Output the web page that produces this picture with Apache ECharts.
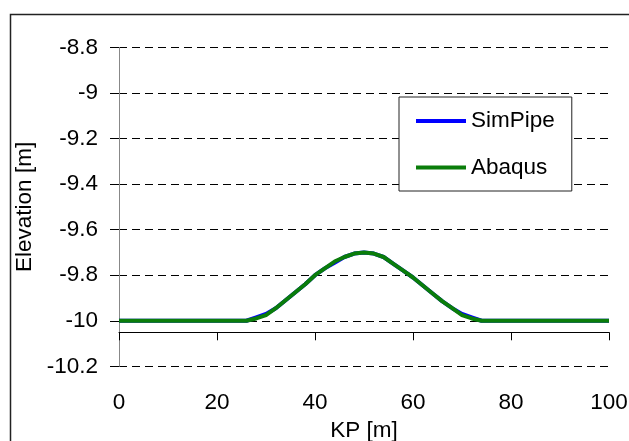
<!DOCTYPE html>
<html><head><meta charset="utf-8">
<script src="https://cdn.jsdelivr.net/npm/echarts@6/dist/echarts.min.js"></script>
<style>html,body{margin:0;padding:0;background:#fff}#c{width:629px;height:441px}</style>
</head><body><div id="c"></div>
<script>
const kp = [0,10,20,26,28,30,32,34,36,38,40,42,44,46,48,50,52,54,56,58,60,62,64,66,68,70,72,74,80,90,100];
const simPipe = [-10,-10,-10,-10,-9.985,-9.97,-9.945,-9.91,-9.875,-9.84,-9.80,-9.77,-9.745,-9.72,-9.705,-9.70,-9.705,-9.72,-9.75,-9.78,-9.81,-9.845,-9.88,-9.915,-9.945,-9.97,-9.985,-10,-10,-10,-10];
const abaqus  = [-10,-10,-10,-10,-9.99,-9.975,-9.945,-9.91,-9.875,-9.84,-9.80,-9.77,-9.74,-9.72,-9.705,-9.70,-9.705,-9.72,-9.75,-9.78,-9.81,-9.845,-9.88,-9.915,-9.945,-9.975,-9.99,-10,-10,-10,-10];
const seriesNames = ['SimPipe','Abaqus'];
const xTicks = {min:0, max:100, interval:20};
const yTicks = {min:-10.2, max:-8.8, interval:0.2};

const font = 'Liberation Sans, Arial, sans-serif';
const fs = 22.5;
const chart = echarts.init(document.getElementById('c'), null, {renderer:'canvas'});
chart.setOption({
  animation:false,
  backgroundColor:'#fff',
  textStyle:{fontFamily:font},
  grid:{left:119, right:20, top:47.5, bottom:74.7, containLabel:false, outerBoundsMode:'none'},
  graphic:[{type:'rect', left:8, top:12, shape:{width:700, height:500}, style:{fill:'none', stroke:'#222', lineWidth:1.5}, z:-1}],
  legend:{
    orient:'vertical', left:399, top:97,
    padding:[12.5,17,12,17], itemGap:23.5, itemWidth:50, itemHeight:4,
    backgroundColor:'#fff', borderColor:'#222', borderWidth:1,
    textStyle:{fontSize:fs, color:'#000', fontFamily:font},
    data:seriesNames.map(n=>({name:n, icon:'rect'})),
    itemStyle:{borderWidth:0}
  },
  xAxis:[{
    type:'value', min:xTicks.min, max:xTicks.max, interval:xTicks.interval, position:'bottom',
    axisLine:{show:false}, axisTick:{show:false}, splitLine:{show:false},
    axisLabel:{fontSize:fs, color:'#000', margin:25, fontFamily:font},
    name:'KP [m]', nameLocation:'middle', nameGap:49.5,
    nameTextStyle:{fontSize:fs, color:'#000', fontFamily:font}
  },{
    type:'value', min:xTicks.min, max:xTicks.max, interval:xTicks.interval, position:'bottom', offset:-34,
    axisLine:{show:true, onZero:false, lineStyle:{color:'#000', width:1}},
    axisTick:{show:true, length:8, lineStyle:{color:'#000', width:1}},
    axisLabel:{show:false}, splitLine:{show:false}
  }],
  yAxis:{
    type:'value', min:yTicks.min, max:yTicks.max, interval:yTicks.interval,
    axisLine:{show:true, lineStyle:{color:'#888', width:1}},
    axisTick:{show:true, length:9, lineStyle:{color:'#000'}},
    splitLine:{show:true, lineStyle:{color:'#000', type:[8,5], width:1}},
    axisLabel:{fontSize:fs, color:'#000', margin:21, fontFamily:font, formatter:v=>String(+v.toFixed(1))},
    name:'Elevation [m]', nameLocation:'middle', nameGap:78, nameRotate:90,
    nameTextStyle:{fontSize:fs, color:'#000', fontFamily:font}
  },
  series:[
    {name:seriesNames[0], type:'line', data:kp.map((k,i)=>[k,simPipe[i]]), showSymbol:false, symbol:'none',
     lineStyle:{color:'#0000ff', width:4}, itemStyle:{color:'#0000ff'}, z:2},
    {name:seriesNames[1], type:'line', data:kp.map((k,i)=>[k,abaqus[i]]), showSymbol:false, symbol:'none',
     lineStyle:{color:'#0a7d0a', width:4}, itemStyle:{color:'#0a7d0a'}, z:3}
  ]
});
</script></body></html>
